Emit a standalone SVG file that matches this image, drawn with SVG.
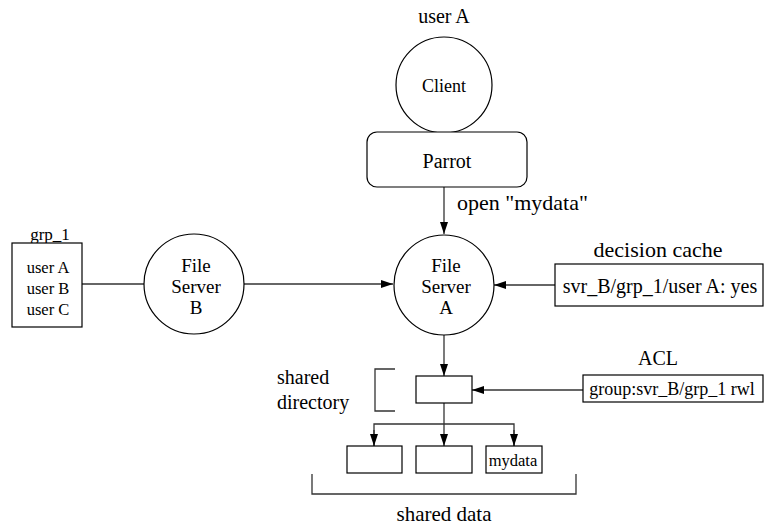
<svg xmlns="http://www.w3.org/2000/svg" width="767" height="525" viewBox="0 0 767 525" font-family="'Liberation Serif', 'DejaVu Serif', serif">
<defs>
<style>
text{font-family:'Liberation Serif','DejaVu Serif',serif;fill:#000;text-anchor:middle}
.f22{font-size:22px}
.f21{font-size:21px}
.f20{font-size:20px}
.f19{font-size:19px}
.f18{font-size:18px}
.f17{font-size:17px}
.f16{font-size:16.5px}
.s{fill:#fff;stroke:#000;stroke-width:1.2}
.c{fill:none;stroke:#333;stroke-width:1.3}
.st{text-anchor:start}
</style>
<marker id="ah" viewBox="0 0 12 8" refX="12" refY="4" markerWidth="12" markerHeight="8" markerUnits="userSpaceOnUse" orient="auto">
<path d="M0,0 L12,4 L0,8 Z" fill="#000"/>
</marker>
</defs>
<rect width="767" height="525" fill="#fff"/>
<g id="connectors">
<line class="c" x1="82" y1="284" x2="144" y2="284"/>
<line class="c" x1="244" y1="284" x2="393" y2="284" marker-end="url(#ah)"/>
<line class="c" x1="444" y1="187" x2="444" y2="234" marker-end="url(#ah)"/>
<line class="c" x1="555" y1="285" x2="494" y2="285" marker-end="url(#ah)"/>
<line class="c" x1="444" y1="335" x2="444" y2="376" marker-end="url(#ah)"/>
<line class="c" x1="583" y1="390" x2="472" y2="390" marker-end="url(#ah)"/>
<line class="c" x1="444" y1="403" x2="444" y2="446" marker-end="url(#ah)"/>
<polyline class="c" points="374,446 374,424 514,424 514,446"/>
<line class="c" x1="374" y1="430" x2="374" y2="446" marker-end="url(#ah)"/>
<line class="c" x1="514" y1="430" x2="514" y2="446" marker-end="url(#ah)"/>
<polyline class="c" points="395,369 375,369 375,411 395,411"/>
<polyline class="c" points="312,474 312,494 576,494 576,474"/>
</g>
<g id="client">
<text class="f20" x="444" y="23">user A</text>
<circle class="s" cx="444" cy="85" r="48"/>
<text class="f18" x="444" y="92">Client</text>
</g>
<g id="parrot">
<rect class="s" x="367" y="132" width="160" height="55" rx="10"/>
<text class="f20" x="447" y="168">Parrot</text>
</g>
<text class="f22 st" x="457" y="210">open "mydata"</text>
<g id="grp1">
<text class="f17" x="50" y="240">grp_1</text>
<rect class="s" x="12" y="243" width="70" height="84"/>
<text class="f16" x="48" y="273">user A</text>
<text class="f16" x="48" y="294">user B</text>
<text class="f16" x="48" y="315">user C</text>
</g>
<g id="serverB">
<circle class="s" cx="194" cy="284" r="50"/>
<text class="f19" x="196" y="272">File</text>
<text class="f19" x="196" y="293">Server</text>
<text class="f19" x="196" y="314">B</text>
</g>
<g id="serverA">
<circle class="s" cx="444" cy="285" r="50"/>
<text class="f19" x="446" y="272">File</text>
<text class="f19" x="446" y="293">Server</text>
<text class="f19" x="446" y="314">A</text>
</g>
<g id="cache">
<text class="f22" x="658" y="257">decision cache</text>
<rect class="s" x="555" y="264" width="208" height="42"/>
<text class="f20" x="660" y="293">svr_B/grp_1/user A: yes</text>
</g>
<g id="acl">
<text class="f20" x="658" y="365">ACL</text>
<rect class="s" x="583" y="375" width="180" height="27"/>
<text class="f18" x="672" y="395">group:svr_B/grp_1 rwl</text>
</g>
<g id="dir">
<text class="f20 st" x="277" y="384">shared</text>
<text class="f20 st" x="277" y="409">directory</text>
<rect class="s" x="416" y="376" width="56" height="27"/>
</g>
<g id="data1"><rect class="s" x="347" y="446" width="55" height="27"/></g>
<g id="data2"><rect class="s" x="416" y="446" width="56" height="27"/></g>
<g id="data3"><rect class="s" x="486" y="446" width="56" height="27"/><text class="f16" x="513" y="466">mydata</text></g>
<text class="f21" x="444" y="521">shared data</text>
</svg>
